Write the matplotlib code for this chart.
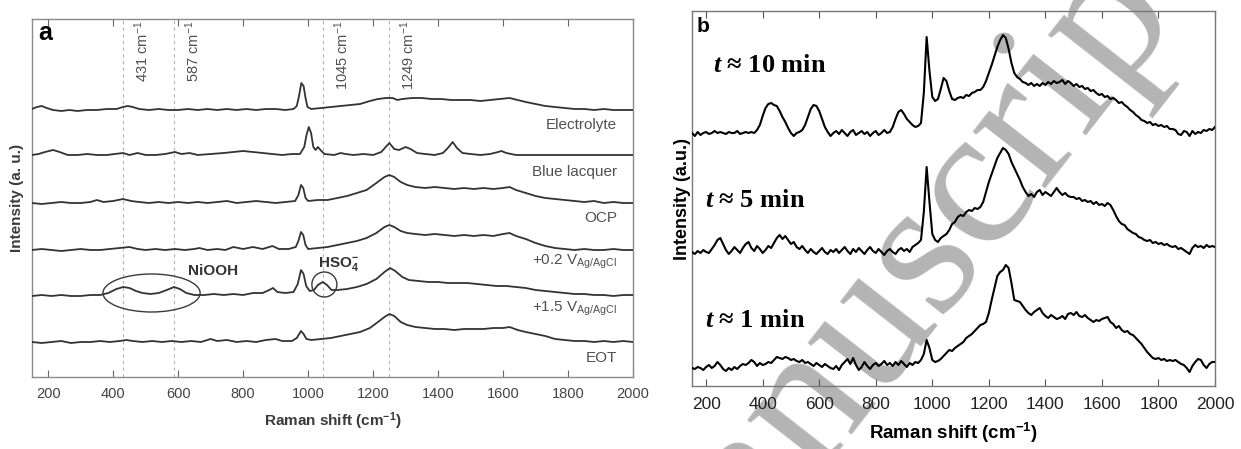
import matplotlib
matplotlib.use("Agg")
import matplotlib.pyplot as plt
import numpy as np
from matplotlib.patches import Ellipse

plt.rcParams["font.family"] = ["Liberation Sans", "DejaVu Sans"]
plt.rcParams["mathtext.fontset"] = "custom"
plt.rcParams["mathtext.rm"] = "Liberation Sans"
plt.rcParams["mathtext.it"] = "Liberation Sans:italic"
plt.rcParams["mathtext.bf"] = "Liberation Sans:bold"
plt.rcParams["mathtext.bfit"] = "Liberation Serif:italic:bold"

# ---- panel a: (Raman shift, height above trace baseline) ----
electrolyte = [(150, 1), (165, 3), (180, 4), (195, 2), (215, 0), (240, -1), (265, 0), (290, -1), (320, 0),
               (350, 0), (380, 1), (410, 1), (430, 3), (445, 4), (460, 3), (480, 1), (510, 0), (540, 1),
               (570, 0), (600, 0), (630, 1), (660, 0), (690, 1), (720, 0), (750, 1), (780, 0), (810, 1),
               (840, 0), (870, 1), (900, 1), (930, 0), (955, 1), (965, 4), (972, 14), (979, 27), (986, 24),
               (992, 12), (998, 3), (1010, 1), (1040, 2), (1070, 3), (1100, 4), (1130, 5), (1160, 6),
               (1190, 9), (1215, 11), (1240, 12), (1260, 12), (1275, 10), (1290, 11), (1320, 12), (1350, 12),
               (1380, 11), (1410, 11), (1440, 10), (1470, 10), (1500, 10), (1530, 9), (1560, 10), (1590, 11),
               (1620, 12), (1645, 10), (1670, 8), (1700, 6), (1730, 4), (1760, 3), (1790, 2), (1820, 1),
               (1850, 1), (1880, 0), (1910, 1), (1940, 0), (1970, 0), (2000, 0)]
blue_lacquer = [(150, 0), (170, 1), (190, 3), (215, 5), (235, 3), (260, 0), (290, 0), (320, 1), (350, 0),
                (380, 0), (405, 1), (430, 2), (450, 0), (475, 2), (500, 0), (530, 0), (560, 1), (590, 3),
                (610, 1), (635, 2), (660, 0), (700, 1), (740, 2), (770, 3), (800, 4), (830, 3), (860, 2),
                (890, 1), (920, 0), (950, 1), (975, 1), (988, 8), (995, 20), (1002, 28), (1009, 22),
                (1016, 8), (1023, 5), (1030, 8), (1038, 5), (1050, 1), (1080, 0), (1100, 2), (1115, 1),
                (1140, 0), (1170, 1), (1200, 0), (1225, 3), (1250, 12), (1265, 6), (1280, 5), (1300, 8),
                (1315, 6), (1335, 2), (1360, 1), (1390, 0), (1415, 2), (1430, 7), (1445, 13), (1458, 7),
                (1475, 2), (1500, 1), (1530, 0), (1560, 1), (1585, 3), (1595, 4), (1610, 2), (1640, 0),
                (1680, 0), (1720, 0), (1760, 0), (1800, 0), (1850, 0), (1900, 0), (1950, 0), (2000, 0)]
ocp = [(150, 0), (180, -1), (210, 0), (240, 1), (270, 0), (300, 0), (330, 1), (350, 3), (370, 1), (400, 2),
       (430, 4), (455, 2), (480, 1), (510, 0), (540, 1), (570, 0), (600, 1), (630, 0), (660, 1), (690, 0),
       (720, 1), (750, 2), (780, 0), (810, 1), (840, 2), (870, 1), (900, 0), (930, 1), (960, 2), (970, 8),
       (978, 18), (985, 15), (992, 5), (1000, 2), (1030, 3), (1060, 3), (1090, 5), (1120, 7), (1150, 10),
       (1180, 13), (1210, 20), (1235, 26), (1250, 28), (1265, 26), (1285, 21), (1305, 18), (1330, 16),
       (1360, 15), (1390, 16), (1420, 15), (1450, 14), (1480, 15), (1510, 14), (1540, 15), (1570, 14),
       (1600, 15), (1620, 16), (1640, 13), (1670, 10), (1700, 7), (1730, 5), (1760, 4), (1790, 3),
       (1820, 2), (1850, 1), (1880, 2), (1910, 0), (1940, 1), (1970, 0), (2000, 0)]
v_02 = [(150, 0), (180, 1), (210, 0), (240, -1), (270, 0), (300, 1), (330, 0), (360, 0), (390, 1), (420, 2),
        (450, 3), (475, 1), (500, 0), (530, 1), (560, 0), (590, 1), (620, 0), (650, 1), (665, 2), (690, 0),
        (720, 1), (745, 0), (770, 3), (800, 1), (830, 3), (860, 1), (890, 4), (910, 1), (940, 1), (962, 3),
        (970, 9), (978, 18), (985, 15), (992, 5), (1000, 1), (1030, 2), (1060, 3), (1090, 5), (1120, 7),
        (1150, 9), (1180, 12), (1210, 17), (1235, 23), (1250, 25), (1265, 23), (1285, 19), (1305, 17),
        (1330, 16), (1360, 15), (1390, 16), (1420, 15), (1450, 14), (1480, 15), (1510, 14), (1540, 15),
        (1570, 14), (1600, 16), (1620, 17), (1640, 14), (1670, 11), (1700, 7), (1730, 4), (1760, 2),
        (1790, 1), (1820, 0), (1850, 1), (1880, 0), (1910, 0), (1940, 1), (1970, 0), (2000, 0)]
v_15 = [(150, 0), (180, 1), (210, 0), (240, 1), (270, 0), (300, 0), (330, 1), (360, 1), (385, 3), (410, 7),
        (431, 9), (450, 8), (470, 5), (490, 3), (515, 2), (540, 3), (565, 6), (587, 9), (605, 7), (625, 3),
        (650, 1), (680, 1), (710, 2), (740, 1), (770, 2), (800, 1), (830, 3), (860, 3), (880, 6), (892, 8),
        (905, 4), (930, 3), (955, 4), (968, 12), (978, 26), (986, 22), (994, 10), (1005, 5), (1018, 6),
        (1030, 11), (1045, 14), (1058, 11), (1072, 6), (1090, 6), (1120, 7), (1150, 9), (1180, 12),
        (1210, 17), (1235, 24), (1252, 28), (1268, 25), (1290, 19), (1310, 16), (1340, 15), (1370, 14),
        (1400, 14), (1430, 13), (1460, 13), (1490, 13), (1520, 12), (1550, 11), (1580, 10), (1610, 10),
        (1640, 9), (1670, 8), (1700, 6), (1730, 5), (1760, 4), (1790, 3), (1820, 2), (1850, 2), (1880, 1),
        (1910, 1), (1940, 0), (1970, 1), (2000, 1)]
eot = [(150, 0), (180, -1), (210, 0), (240, 1), (270, -1), (300, 0), (330, 0), (360, 1), (390, 0), (420, 1),
       (440, 2), (460, 1), (490, 0), (520, 1), (550, 0), (580, 1), (610, 0), (640, 1), (670, 0), (700, 3),
       (720, 1), (750, 2), (780, 0), (810, 1), (840, 0), (870, 2), (900, 3), (920, 1), (950, 1), (965, 4),
       (978, 11), (986, 8), (995, 3), (1010, 2), (1040, 3), (1070, 4), (1100, 6), (1130, 8), (1160, 10),
       (1190, 14), (1215, 20), (1235, 25), (1250, 28), (1265, 26), (1285, 20), (1305, 17), (1330, 15),
       (1360, 14), (1390, 13), (1420, 13), (1450, 12), (1480, 13), (1510, 13), (1540, 13), (1570, 14),
       (1600, 14), (1620, 15), (1645, 12), (1670, 10), (1700, 8), (1730, 6), (1760, 3), (1790, 2),
       (1820, 1), (1850, 1), (1880, 0), (1910, 1), (1940, 0), (1970, 1), (2000, 0)]

traces_a = [electrolyte, blue_lacquer, ocp, v_02, v_15, eot]
offsets_a = [267, 222, 174, 127, 81, 35]
labels_a = ["Electrolyte", "Blue lacquer", "OCP",
            r"+0.2 V$_{\mathrm{Ag/AgCl}}$", r"+1.5 V$_{\mathrm{Ag/AgCl}}$", "EOT"]
label_y_a = [248, 201, 155, 112, 65, 15]
marker_lines = [431, 587, 1045, 1249]

# ---- panel b: spectra every 10 cm-1 from 150 to 2000 ----
shift_b = np.arange(150, 2001, 10)
t10 = [0, -3, 1, -2, 0, 1, -1, 0, 2, 0,
       1, 0, -1, 1, 0, 0, 2, -1, 0, 1,
       0, 1, 0, 3, 8, 17, 25, 29, 30, 28,
       27, 22, 16, 11, 5, 0, -3, 0, 1, 3,
       8, 16, 24, 28, 27, 22, 14, 6, 1, -3,
       0, 2, -1, 3, 0, -3, 1, 3, -2, 0,
       2, -1, 1, -3, 0, 2, -2, 0, 3, 0,
       1, 6, 14, 21, 23, 19, 14, 11, 8, 6,
       7, 10, 40, 96, 62, 36, 32, 34, 44, 55,
       52, 42, 34, 33, 35, 36, 35, 38, 37, 40,
       41, 43, 43, 46, 52, 60, 68, 77, 86, 93,
       98, 95, 84, 70, 60, 56, 54, 51, 50, 48,
       50, 47, 49, 47, 50, 48, 51, 49, 52, 50,
       51, 53, 49, 52, 50, 47, 49, 46, 47, 44,
       45, 42, 43, 40, 38, 39, 36, 37, 34, 35,
       33, 30, 31, 28, 26, 23, 21, 18, 16, 13,
       12, 10, 11, 8, 9, 7, 8, 6, 7, 4,
       4, 3, -1, -2, 2, 1, -3, 2, -1, 1,
       0, 3, 2, 4, 3, 6]
t5 = [0, -2, 1, -1, 2, 0, -1, 3, 7, 12,
      14, 8, 2, -2, 1, 5, 2, -1, 4, 8,
      10, 4, 1, 6, 3, -1, 2, 6, 4, 9,
      14, 17, 13, 16, 12, 8, 10, 5, 3, 6,
      2, -1, 3, 0, -2, 1, 4, 0, -2, 2,
      0, 3, -1, 2, 5, 1, -2, 3, 0, 4,
      1, -2, 2, 5, 1, -1, 3, 0, -3, 1,
      3, 0, -2, 2, 4, 1, 3, 0, 5, 7,
      9, 12, 40, 85, 50, 18, 12, 10, 14, 16,
      18, 22, 28, 30, 35, 37, 36, 40, 42, 41,
      44, 43, 45, 50, 60, 70, 78, 86, 94, 99,
      104, 102, 98, 90, 84, 78, 72, 65, 60, 56,
      58, 55, 60, 62, 57, 60, 58, 56, 60, 64,
      60, 57, 59, 56, 55, 55, 53, 54, 51, 52,
      50, 51, 48, 50, 47, 48, 46, 49, 47, 42,
      36, 31, 28, 27, 23, 21, 19, 18, 15, 14,
      12, 11, 12, 9, 10, 8, 9, 7, 8, 6,
      5, 6, 3, 4, 2, 0, -2, 4, 7, 5,
      6, 4, 7, 5, 6, 5]
t1 = [0, -1, 1, 0, -2, 1, 3, 0, 2, 6,
      3, -1, -3, 0, -2, 1, -1, 2, 4, 3,
      5, 8, 6, 2, 5, 3, 4, 6, 5, 8,
      11, 10, 9, 11, 10, 8, 9, 7, 6, 8,
      5, 6, 4, 2, 5, 3, 1, 4, 2, 0,
      -1, 2, -2, 3, 6, 9, 4, 10, 3, -2,
      1, 6, 2, -1, 3, 5, 2, 4, 7, 3,
      5, 2, 6, 3, 7, 4, 1, 5, 3, 6,
      5, 8, 14, 28, 20, 8, 6, 7, 9, 12,
      15, 18, 17, 20, 22, 24, 26, 30, 32, 34,
      37, 40, 43, 44, 46, 55, 68, 80, 92, 96,
      98, 103, 100, 85, 68, 67, 66, 62, 58, 55,
      53, 56, 58, 60, 55, 52, 50, 53, 51, 49,
      50, 52, 49, 54, 55, 53, 56, 52, 51, 53,
      50, 48, 46, 48, 47, 49, 50, 51, 46, 44,
      40, 42, 38, 36, 37, 34, 33, 30, 27, 24,
      20, 16, 13, 10, 9, 10, 8, 9, 7, 8,
      7, 8, 6, 4, 3, 0, -4, 2, 6, 9,
      8, 3, 0, 4, 6, 6]

traces_b = [t10, t5, t1]
offsets_b = [253, 134, 18]
labels_b = [r"$\mathbfit{t}$ ≈ 10 min", r"$\mathbfit{t}$ ≈ 5 min", r"$\mathbfit{t}$ ≈ 1 min"]
label_pos_b = [(224, 314), (196, 179), (196, 59)]

W, H = 1241, 449
fig = plt.figure(figsize=(W / 100, H / 100), dpi=100)

# ---------------- panel a ----------------
axa = fig.add_axes([32 / W, 1 - 377 / H, 601 / W, 358 / H])
axa.patch.set_alpha(0)
grey_txt = "#505050"
for xv in marker_lines:
    axa.axvline(xv, color="#b5b5b5", lw=0.8, ls=(0, (3, 3)), zorder=1)
    axa.text(xv + 57, 356, f"{xv} cm" + r"$^{-1}$", rotation=90, ha="center", va="top",
             fontsize=10.5, color=grey_txt)
for tr, off, lab, ly in zip(traces_a, offsets_a, labels_a, label_y_a):
    arr = np.array(tr, dtype=float)
    axa.plot(arr[:, 0], arr[:, 1] + off, color="#333333", lw=1.3, zorder=3)
    axa.text(1950, ly, lab, ha="right", va="baseline", fontsize=11, color=grey_txt)

axa.add_patch(Ellipse((518, 84), 299, 38, fill=False, ec="#3a3a3a", lw=1.0, zorder=4))
axa.add_patch(Ellipse((1050, 92.5), 77, 25, fill=False, ec="#3a3a3a", lw=1.0, zorder=4))
axa.text(707, 102, "NiOOH", ha="center", va="baseline", fontsize=11, fontweight="bold", color="#333333")
axa.text(1030, 110, r"HSO$_{\mathbf{4}}^{\mathbf{-}}$", ha="left", va="baseline", fontsize=11,
         fontweight="bold", color="#333333")
axa.text(0.011, 0.995, "a", transform=axa.transAxes, fontsize=18, fontweight="bold", va="top", ha="left")

axa.set_xlim(150, 2000)
axa.set_ylim(0, 358)
axa.set_xticks(range(200, 2001, 200))
axa.set_yticks([])
axa.tick_params(axis="x", direction="in", top=True, length=5, width=0.8, color="#666666",
                labelsize=10.5, labelcolor="#444444", pad=7)
for sp in axa.spines.values():
    sp.set_color("#8a8a8a")
    sp.set_linewidth(1.0)
axa.set_xlabel(r"Raman shift (cm$^{\mathbf{-1}}$)", fontsize=11, fontweight="bold", color="#3a3a3a", labelpad=7)
axa.set_ylabel("Intensity (a. u.)", fontsize=11, fontweight="bold", color="#3a3a3a", labelpad=6)

# ---------------- panel b ----------------
axb = fig.add_axes([692 / W, 1 - 386 / H, 523 / W, 375 / H])
axb.patch.set_alpha(0)
for tr, off, lab, pos in zip(traces_b, offsets_b, labels_b, label_pos_b):
    axb.plot(shift_b, np.array(tr, dtype=float) + off, color="black", lw=1.5, zorder=3)
    axb.text(pos[0], pos[1], lab, ha="left", va="baseline", fontsize=19, fontweight="bold",
             family="Liberation Serif")
axb.text(0.008, 0.985, "b", transform=axb.transAxes, fontsize=15, fontweight="bold", va="top", ha="left")
axb.set_xlim(150, 2000)
axb.set_ylim(0, 375)
axb.set_xticks(range(200, 2001, 200))
axb.set_yticks([])
axb.tick_params(axis="x", direction="in", top=True, length=5, width=0.8, color="#555555",
                labelsize=12.5, labelcolor="#222222", pad=8)
for sp in axb.spines.values():
    sp.set_color("#777777")
    sp.set_linewidth(1.0)
axb.set_xlabel(r"Raman shift (cm$^{\mathbf{-1}}$)", fontsize=13.5, fontweight="bold", labelpad=6)
axb.set_ylabel("Intensity (a.u.)", fontsize=13, fontweight="bold", labelpad=1)

# watermark
fig.text(932 / W, 1 - 326 / H, "Manuscript", family="Liberation Serif", fontsize=144, color="#b4b4b4",
         rotation=52, rotation_mode="anchor", ha="center", va="baseline", zorder=-1)

fig.savefig("out.png", dpi=100)
